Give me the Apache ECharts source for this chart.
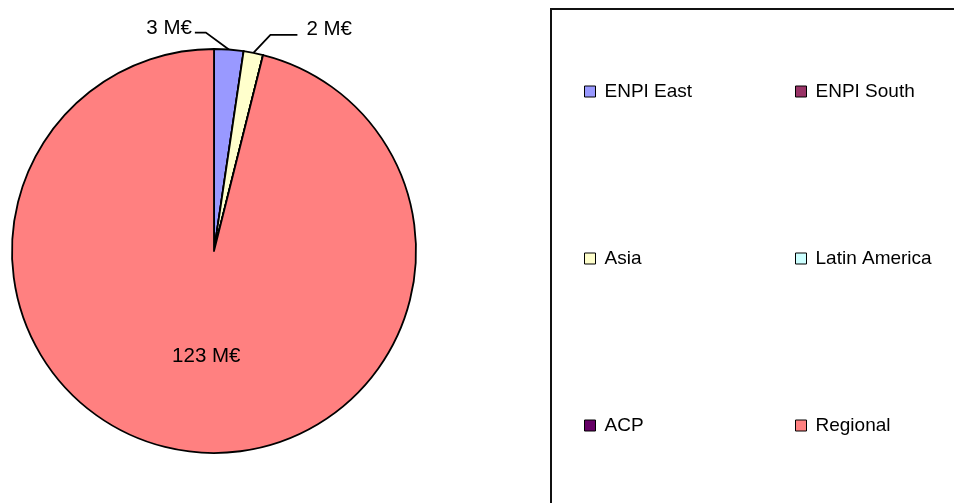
<!DOCTYPE html>
<html>
<head>
<meta charset="utf-8">
<script src="https://cdn.jsdelivr.net/npm/echarts@6/dist/echarts.min.js"></script>
<style>
  html, body { margin: 0; padding: 0; background: #fff; }
  #chart { width: 954px; height: 503px; }
</style>
</head>
<body>
<div id="chart"></div>
<script>
// regions and amounts (M€)
var regions = ['ENPI East', 'ENPI South', 'Asia', 'Latin America', 'ACP', 'Regional'];
var amounts = [3, 0, 2, 0, 0, 123];
var colors  = ['#9999FF', '#993366', '#FFFFCC', '#CCFFFF', '#660066', '#FF8080'];

var legendLeftCol  = ['ENPI East', 'Asia', 'ACP'];
var legendRightCol = ['ENPI South', 'Latin America', 'Regional'];

var FONT = '"Liberation Sans", Arial, sans-serif';

var pieData = regions.map(function (name, i) {
    var item = {
        name: name,
        value: amounts[i],
        itemStyle: { color: colors[i] }
    };
    if (amounts[i] === 0) {
        item.label = { show: false };
        item.labelLine = { show: false };
    } else if (name === 'Regional') {
        item.label = { position: 'inside' };
    }
    return item;
});

// leader lines drawn like the old office chart: small slices get their label at the top
function layoutLabel(params) {
    var pts = params.labelLinePoints;
    if (params.dataIndex === 5) {
        return { dx: 5, dy: 2 };
    }
    if (!pts) {
        return {};
    }
    var p0 = pts[0];
    if (params.dataIndex === 0) {
        // label to the left
        var b = [p0[0] - 23, p0[1] - 17];
        var e = [b[0] - 11, b[1]];
        return {
            x: e[0] - 3, y: e[1] - 4,
            align: 'right', verticalAlign: 'middle',
            labelLinePoints: [p0, b, e]
        };
    }
    if (params.dataIndex === 2) {
        var b2 = [p0[0] + 17, p0[1] - 18];
        var e2 = [b2[0] + 27, b2[1]];
        return {
            x: e2[0] + 9, y: e2[1] - 6,
            align: 'left', verticalAlign: 'middle',
            labelLinePoints: [p0, b2, e2]
        };
    }
    return {};
}

var legendCommon = {
    orient: 'vertical',
    icon: 'rect',
    padding: 0,
    itemWidth: 11,
    itemHeight: 11,
    itemGap: 148,
    selectedMode: false,
    textStyle: { fontFamily: FONT, fontSize: 19, color: '#000', padding: [0, 0, 0, 4] },
    itemStyle: { borderColor: '#000', borderWidth: 1 }
};

var chart = echarts.init(document.getElementById('chart'), null, { renderer: 'canvas' });

var option = {
    animation: false,
    backgroundColor: '#fff',
    color: colors,
    graphic: [{
        type: 'rect',
        shape: { x: 551, y: 9, width: 500, height: 600 },
        style: { fill: 'none', stroke: '#111', lineWidth: 2 },
        z: -1
    }],
    legend: [
        $extend({ left: 584, top: 82, data: legendLeftCol }, legendCommon),
        $extend({ left: 795, top: 82, data: legendRightCol }, legendCommon)
    ],
    series: [{
        type: 'pie',
        center: [214, 251],
        radius: [0, 202],
        startAngle: 90,
        clockwise: true,
        avoidLabelOverlap: false,
        itemStyle: { borderColor: '#000', borderWidth: 1.8 },
        label: {
            show: true,
            formatter: '{c} M€',
            fontFamily: FONT,
            fontSize: 20.5,
            color: '#000'
        },
        labelLine: {
            show: true,
            lineStyle: { color: '#000', width: 1.8 }
        },
        labelLayout: layoutLabel,
        emphasis: { disabled: true },
        data: pieData
    }]
};

function $extend(a, b) {
    var o = {};
    for (var k in b) o[k] = b[k];
    for (var j in a) o[j] = a[j];
    return o;
}

chart.setOption(option);
</script>
</body>
</html>
